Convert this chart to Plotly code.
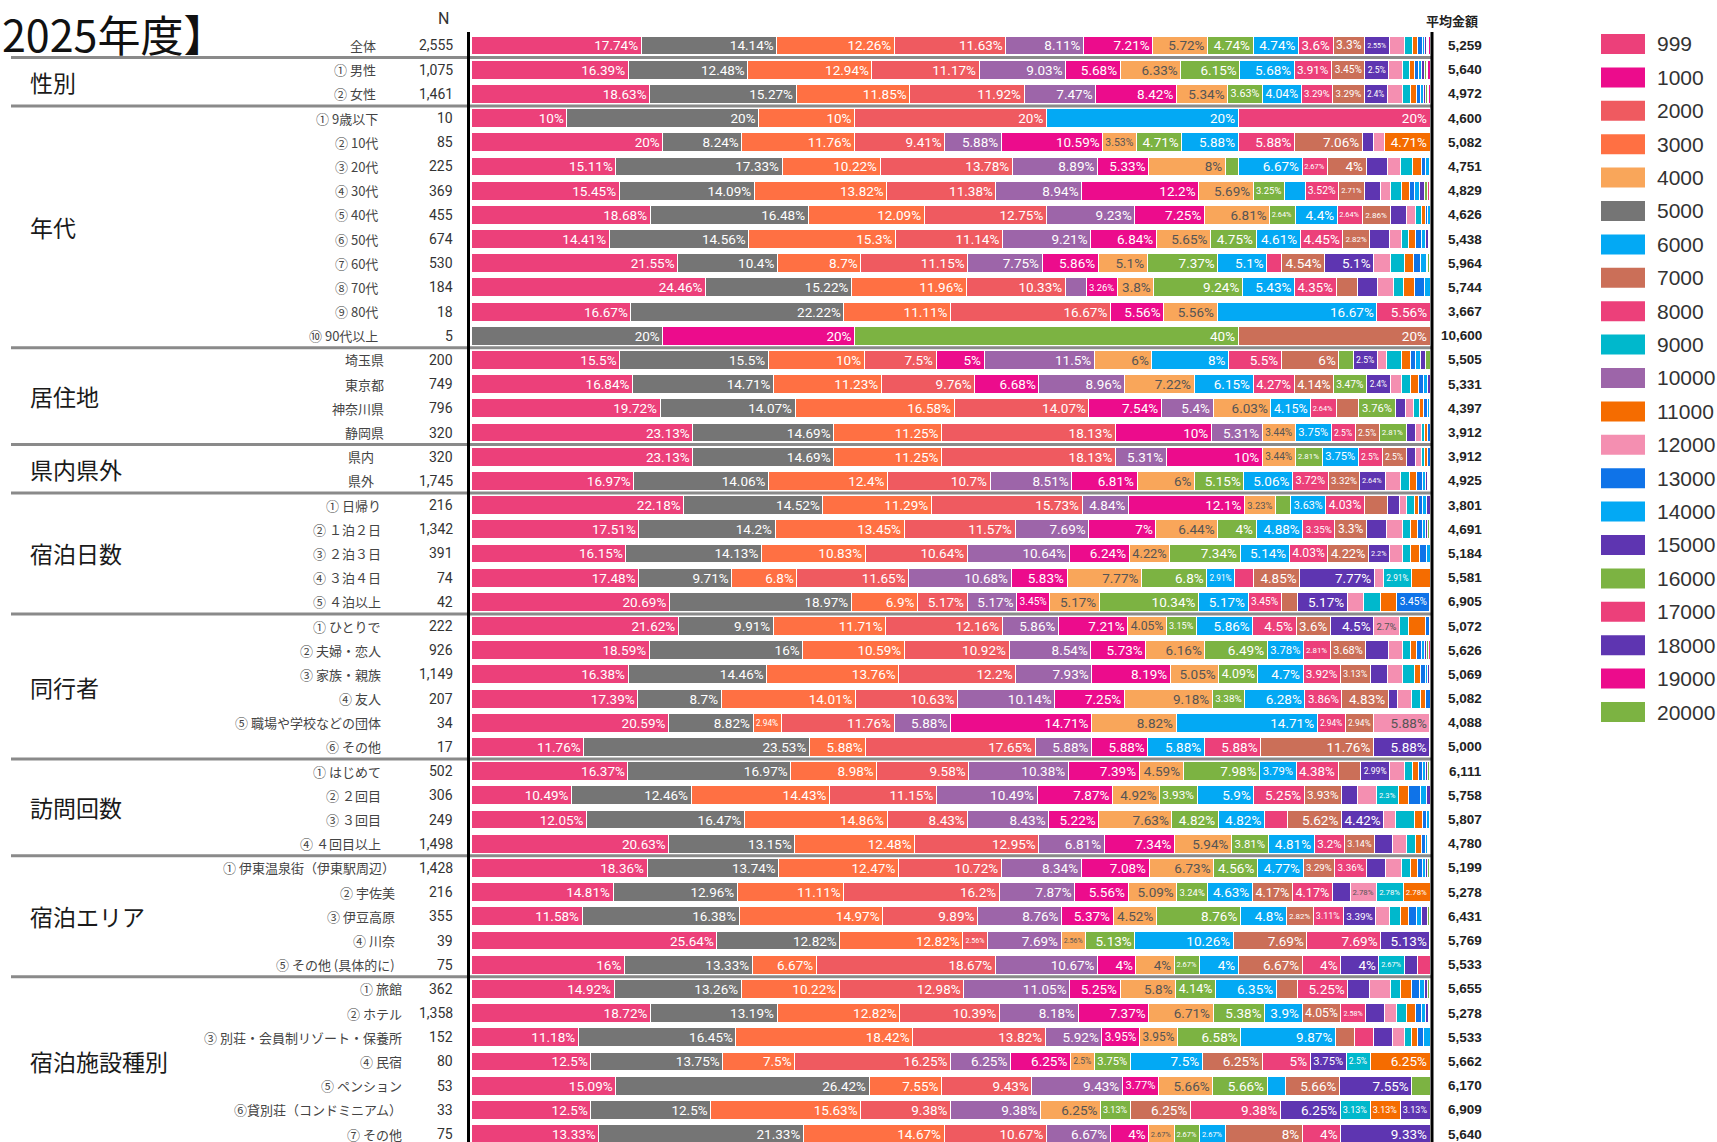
import plotly.graph_objects as go

W, H = 1717, 1142

# ---- amount buckets (legend order) and their colours ----
AMOUNTS = [999, 1000, 2000, 3000, 4000, 5000, 6000, 7000, 8000, 9000, 10000,
           11000, 12000, 13000, 14000, 15000, 16000, 17000, 18000, 19000, 20000]
AMOUNT_COLORS = ["#EC407A", "#EC0C8C", "#EF5A60", "#FF7043", "#F9A65A", "#757575",
                 "#03A9F4", "#CB6F58", "#EC407A", "#00B8CC", "#9D65A9", "#F56C00",
                 "#F48FB1", "#0F73E8", "#03A9F4", "#5E35B1", "#7CB342", "#EC407A",
                 "#5E35B1", "#EC0C8C", "#7CB342"]

# ---- stacking order of the buckets inside each block ----
ORDER_MAIN = [999, 5000, 3000, 2000, 10000, 1000, 4000, 20000, 6000, 8000, 7000,
              15000, 12000, 9000, 11000, 13000, 14000, 18000, 16000, 17000, 19000]
ORDER_RESIDENCE = [999, 5000, 3000, 2000, 1000, 10000, 4000, 6000, 8000, 7000, 20000,
                   15000, 12000, 9000, 11000, 13000, 14000, 18000, 16000, 17000, 19000]
ORDER_STAY = [999, 5000, 3000, 2000, 10000, 1000, 4000, 20000, 6000, 7000, 8000,
              15000, 12000, 9000, 11000, 13000, 14000, 18000, 16000, 17000, 19000]

# ---- 全体 ----
ROWS_ALL = ["全体"]
N_ALL = [2555]
AVG_ALL = [5259]
SHARE_ALL = [
    [17.74, 14.14, 12.26, 11.63, 8.11, 7.21, 5.72, 4.74, 4.74, 3.6, 3.3, 2.55, 1.6, 0.8, 0.6, 0.5, 0.2, 0.15, 0.15, 0.15, 0.11],
]

# ---- 性別 ----
ROWS_SEX = ["① 男性", "② 女性"]
N_SEX = [1075, 1461]
AVG_SEX = [5640, 4972]
SHARE_SEX = [
    [16.39, 12.48, 12.94, 11.17, 9.03, 5.68, 6.33, 6.15, 5.68, 3.91, 3.45, 2.5, 1.4, 0.8, 0.5, 0.4, 0.3, 0.28, 0.2, 0.2, 0.21],
    [18.63, 15.27, 11.85, 11.92, 7.47, 8.42, 5.34, 3.63, 4.04, 3.29, 3.29, 2.4, 1.6, 0.8, 0.6, 0.5, 0.25, 0.2, 0.2, 0.15, 0.15],
]

# ---- 年代 ----
ROWS_AGE = ["① 9歳以下", "② 10代", "③ 20代", "④ 30代", "⑤ 40代", "⑥ 50代",
            "⑦ 60代", "⑧ 70代", "⑨ 80代", "⑩ 90代以上"]
N_AGE = [10, 85, 225, 369, 455, 674, 530, 184, 18, 5]
AVG_AGE = [4600, 5082, 4751, 4829, 4626, 5438, 5964, 5744, 3667, 10600]
SHARE_AGE = [
    [10, 20, 10, 20, 0, 0, 0, 0, 20, 20, 0, 0, 0, 0, 0, 0, 0, 0, 0, 0, 0],
    [20, 8.24, 11.76, 9.41, 5.88, 10.59, 3.53, 4.71, 5.88, 5.88, 7.06, 1.18, 1.18, 0, 4.71, 0, 0, 0, 0, 0, 0],
    [15.11, 17.33, 10.22, 13.78, 8.89, 5.33, 8.0, 1.33, 6.67, 2.67, 4.0, 2.22, 1.33, 1.33, 0.89, 0.44, 0.44, 0, 0, 0, 0],
    [15.45, 14.09, 13.82, 11.38, 8.94, 12.2, 5.69, 3.25, 2.17, 3.52, 2.71, 1.63, 1.08, 1.08, 0.81, 0.54, 0.54, 0.54, 0.27, 0.27, 0],
    [18.68, 16.48, 12.09, 12.75, 9.23, 7.25, 6.81, 2.64, 4.4, 2.64, 2.86, 1.76, 0.88, 0.66, 0.44, 0.22, 0.22, 0, 0, 0, 0],
    [14.41, 14.56, 15.3, 11.14, 9.21, 6.84, 5.65, 4.75, 4.61, 4.45, 2.82, 2.08, 1.19, 0.74, 0.74, 0.59, 0.45, 0.3, 0.15, 0, 0],
    [21.55, 10.4, 8.7, 11.15, 7.75, 5.86, 5.1, 7.37, 5.1, 1.51, 4.54, 5.1, 1.7, 1.51, 0.94, 0.75, 0.57, 0.19, 0.19, 0, 0],
    [24.46, 15.22, 11.96, 10.33, 2.17, 3.26, 3.8, 9.24, 5.43, 4.35, 2.17, 2.17, 1.63, 1.09, 1.09, 1.09, 0.54, 0, 0, 0, 0],
    [16.67, 22.22, 11.11, 16.67, 0, 5.56, 5.56, 0, 16.67, 5.56, 0, 0, 0, 0, 0, 0, 0, 0, 0, 0, 0],
    [0, 20, 0, 0, 0, 20, 0, 40, 0, 0, 20, 0, 0, 0, 0, 0, 0, 0, 0, 0, 0],
]

# ---- 居住地 ----
ROWS_HOME = ["埼玉県", "東京都", "神奈川県", "静岡県"]
N_HOME = [200, 749, 796, 320]
AVG_HOME = [5505, 5331, 4397, 3912]
SHARE_HOME = [
    [15.5, 15.5, 10, 7.5, 5, 11.5, 6, 8, 5.5, 6, 1.5, 2.5, 1, 1.5, 1, 0.5, 0.5, 0.5, 0.5, 0, 0],
    [16.84, 14.71, 11.23, 9.76, 6.68, 8.96, 7.22, 6.15, 4.27, 4.14, 3.47, 2.4, 1.2, 0.93, 0.8, 0.53, 0.4, 0.31, 0, 0, 0],
    [19.72, 14.07, 16.58, 14.07, 7.54, 5.4, 6.03, 4.15, 2.64, 2.39, 3.76, 1.13, 0.75, 0.63, 0.5, 0.38, 0.25, 0, 0, 0, 0],
    [23.13, 14.69, 11.25, 18.13, 10, 5.31, 3.44, 3.75, 2.5, 2.5, 2.81, 0.94, 0.63, 0.31, 0.31, 0.31, 0, 0, 0, 0, 0],
]

# ---- 県内県外 ----
ROWS_PREF = ["県内", "県外"]
N_PREF = [320, 1745]
AVG_PREF = [3912, 4925]
SHARE_PREF = [
    [23.13, 14.69, 11.25, 18.13, 5.31, 10, 3.44, 2.81, 3.75, 2.5, 2.5, 0.94, 0.63, 0.31, 0.31, 0.31, 0, 0, 0, 0, 0],
    [16.97, 14.06, 12.4, 10.7, 8.51, 6.81, 6, 5.15, 5.06, 3.72, 3.32, 2.64, 1.55, 1.0, 0.74, 0.57, 0.34, 0.23, 0.11, 0.06, 0.06],
]

# ---- 宿泊日数 ----
ROWS_NIGHTS = ["① 日帰り", "② １泊２日", "③ ２泊３日", "④ ３泊４日", "⑤ ４泊以上"]
N_NIGHTS = [216, 1342, 391, 74, 42]
AVG_NIGHTS = [3801, 4691, 5184, 5581, 6905]
SHARE_NIGHTS = [
    [22.18, 14.52, 11.29, 15.73, 4.84, 12.1, 3.23, 1.61, 3.63, 4.03, 2.42, 1.21, 0.81, 0.81, 0.4, 0.4, 0.4, 0.4, 0, 0, 0],
    [17.51, 14.2, 13.45, 11.57, 7.69, 7, 6.44, 4, 4.88, 3.35, 3.3, 2.1, 1.6, 0.9, 0.7, 0.5, 0.35, 0.25, 0.11, 0.1, 0],
    [16.15, 14.13, 10.83, 10.64, 10.64, 6.24, 4.22, 7.34, 5.14, 4.03, 4.22, 2.2, 1.4, 0.8, 0.9, 0.8, 0.32, 0, 0, 0, 0],
    [17.48, 9.71, 6.8, 11.65, 10.68, 5.83, 7.77, 6.8, 2.91, 1.94, 4.85, 7.77, 0.97, 2.91, 1.94, 0, 0, 0, 0, 0, 0],
    [20.69, 18.97, 6.9, 5.17, 5.17, 3.45, 5.17, 10.34, 5.17, 3.45, 1.72, 5.17, 1.72, 1.72, 1.72, 3.45, 0, 0, 0, 0, 0],
]

# ---- 同行者 ----
ROWS_PARTY = ["① ひとりで", "② 夫婦・恋人", "③ 家族・親族", "④ 友人",
              "⑤ 職場や学校などの団体", "⑥ その他"]
N_PARTY = [222, 926, 1149, 207, 34, 17]
AVG_PARTY = [5072, 5626, 5069, 5082, 4088, 5000]
SHARE_PARTY = [
    [21.62, 9.91, 11.71, 12.16, 5.86, 7.21, 4.05, 3.15, 5.86, 4.5, 3.6, 4.5, 2.7, 0.9, 1.8, 0.45, 0, 0, 0, 0, 0],
    [18.59, 16, 10.59, 10.92, 8.54, 5.73, 6.16, 6.49, 3.78, 2.81, 3.68, 2.38, 1.51, 0.76, 0.65, 0.54, 0.32, 0.22, 0.22, 0.11, 0],
    [16.38, 14.46, 13.76, 12.2, 7.93, 8.19, 5.05, 4.09, 4.7, 3.92, 3.13, 1.74, 1.57, 1.22, 0.7, 0.44, 0.26, 0.17, 0.09, 0, 0],
    [17.39, 8.7, 14.01, 10.63, 10.14, 7.25, 9.18, 3.38, 6.28, 3.86, 4.83, 0.97, 1.45, 0.97, 0.48, 0.48, 0, 0, 0, 0, 0],
    [20.59, 8.82, 2.94, 11.76, 5.88, 14.71, 8.82, 0, 14.71, 2.94, 2.94, 0, 5.88, 0, 0, 0, 0, 0, 0, 0, 0],
    [11.76, 23.53, 5.88, 17.65, 5.88, 5.88, 0, 0, 5.88, 5.88, 11.76, 5.88, 0, 0, 0, 0, 0, 0, 0, 0, 0],
]

# ---- 訪問回数 ----
ROWS_VISITS = ["① はじめて", "② ２回目", "③ ３回目", "④ ４回目以上"]
N_VISITS = [502, 306, 249, 1498]
AVG_VISITS = [6111, 5758, 5807, 4780]
SHARE_VISITS = [
    [16.37, 16.97, 8.98, 9.58, 10.38, 7.39, 4.59, 7.98, 3.79, 4.38, 2.39, 2.99, 1.59, 0.8, 0.6, 0.4, 0.4, 0.2, 0.2, 0, 0],
    [10.49, 12.46, 14.43, 11.15, 10.49, 7.87, 4.92, 3.93, 5.9, 5.25, 3.93, 1.64, 1.97, 2.3, 0.98, 1.31, 0.66, 0.33, 0, 0, 0],
    [12.05, 16.47, 14.86, 8.43, 8.43, 5.22, 7.63, 4.82, 4.82, 2.41, 5.62, 4.42, 1.2, 2.01, 0.8, 0.4, 0.4, 0, 0, 0, 0],
    [20.63, 13.15, 12.48, 12.95, 6.81, 7.34, 5.94, 3.81, 4.81, 3.2, 3.14, 1.87, 1.47, 0.87, 0.67, 0.4, 0.2, 0.13, 0.07, 0.07, 0],
]

# ---- 宿泊エリア ----
ROWS_AREA = ["① 伊東温泉街（伊東駅周辺）", "② 宇佐美", "③ 伊豆高原", "④ 川奈",
             "⑤ その他 (具体的に)"]
N_AREA = [1428, 216, 355, 39, 75]
AVG_AREA = [5199, 5278, 6431, 5769, 5533]
SHARE_AREA = [
    [18.36, 13.74, 12.47, 10.72, 8.34, 7.08, 6.73, 4.56, 4.77, 3.29, 3.36, 1.96, 1.61, 0.98, 0.77, 0.49, 0.35, 0.21, 0.14, 0.07, 0],
    [14.81, 12.96, 11.11, 16.2, 7.87, 5.56, 5.09, 3.24, 4.63, 4.17, 4.17, 1.85, 2.78, 2.78, 2.78, 0, 0, 0, 0, 0, 0],
    [11.58, 16.38, 14.97, 9.89, 8.76, 5.37, 4.52, 8.76, 4.8, 2.82, 3.11, 3.39, 1.41, 1.13, 0.85, 0.85, 0.56, 0.56, 0.28, 0, 0],
    [25.64, 12.82, 12.82, 2.56, 7.69, 0, 2.56, 5.13, 10.26, 7.69, 7.69, 5.13, 0, 0, 0, 0, 0, 0, 0, 0, 0],
    [16, 13.33, 6.67, 18.67, 10.67, 4, 4, 2.67, 4, 6.67, 4, 4, 0, 2.67, 0, 0, 0, 1.33, 0, 1.33, 0],
]

# ---- 宿泊施設種別 ----
ROWS_LODGING = ["① 旅館", "② ホテル", "③ 別荘・会員制リゾート・保養所", "④ 民宿",
                "⑤ ペンション", "⑥貸別荘（コンドミニアム）", "⑦ その他"]
N_LODGING = [362, 1358, 152, 80, 53, 33, 75]
AVG_LODGING = [5655, 5278, 5533, 5662, 6170, 6909, 5640]
SHARE_LODGING = [
    [14.92, 13.26, 10.22, 12.98, 11.05, 5.25, 5.8, 4.14, 6.35, 2.21, 5.25, 2.21, 2.21, 1.1, 1.1, 0.83, 0.55, 0.28, 0.28, 0, 0],
    [18.72, 13.19, 12.82, 10.39, 8.18, 7.37, 6.71, 5.38, 3.9, 4.05, 2.58, 1.99, 1.25, 1.03, 0.88, 0.66, 0.44, 0.29, 0.15, 0, 0],
    [11.18, 16.45, 18.42, 13.82, 5.92, 3.95, 3.95, 6.58, 9.87, 1.97, 1.97, 1.97, 1.32, 0.66, 0.66, 0.66, 0.66, 0, 0, 0, 0],
    [12.5, 13.75, 7.5, 16.25, 6.25, 6.25, 2.5, 3.75, 7.5, 6.25, 5, 3.75, 0, 2.5, 6.25, 0, 0, 0, 0, 0, 0],
    [15.09, 26.42, 7.55, 9.43, 9.43, 3.77, 5.66, 5.66, 1.89, 5.66, 0, 7.55, 0, 0, 0, 0, 0, 0, 1.89, 0, 0],
    [12.5, 12.5, 15.63, 9.38, 9.38, 0, 6.25, 3.13, 0, 6.25, 9.38, 6.25, 0, 3.13, 3.13, 0, 0, 3.13, 0, 0, 0],
    [13.33, 21.33, 14.67, 10.67, 6.67, 4, 2.67, 2.67, 2.67, 8, 4, 9.33, 0, 0, 0, 0, 0, 0, 0, 0, 0],
]

# block title, rows, N, average, shares, stacking order
GROUPS = [
    ("", ROWS_ALL, N_ALL, AVG_ALL, SHARE_ALL, ORDER_MAIN),
    ("性別", ROWS_SEX, N_SEX, AVG_SEX, SHARE_SEX, ORDER_MAIN),
    ("年代", ROWS_AGE, N_AGE, AVG_AGE, SHARE_AGE, ORDER_MAIN),
    ("居住地", ROWS_HOME, N_HOME, AVG_HOME, SHARE_HOME, ORDER_RESIDENCE),
    ("県内県外", ROWS_PREF, N_PREF, AVG_PREF, SHARE_PREF, ORDER_MAIN),
    ("宿泊日数", ROWS_NIGHTS, N_NIGHTS, AVG_NIGHTS, SHARE_NIGHTS, ORDER_MAIN),
    ("同行者", ROWS_PARTY, N_PARTY, AVG_PARTY, SHARE_PARTY, ORDER_MAIN),
    ("訪問回数", ROWS_VISITS, N_VISITS, AVG_VISITS, SHARE_VISITS, ORDER_MAIN),
    ("宿泊エリア", ROWS_AREA, N_AREA, AVG_AREA, SHARE_AREA, ORDER_STAY),
    ("宿泊施設種別", ROWS_LODGING, N_LODGING, AVG_LODGING, SHARE_LODGING, ORDER_STAY),
]

# right edge (px) of the row captions in each block
CAPTION_EDGE = {"": 378, "性別": 378, "年代": 380, "居住地": 386, "県内県外": 376,
                "宿泊日数": 383, "同行者": 383, "訪問回数": 383, "宿泊エリア": 397,
                "宿泊施設種別": 404}

# ---- geometry ----
BAR_LEFT, BAR_RIGHT = 471, 1430
PLOT_TOP = 33.4
PX_PER_PCT = (BAR_RIGHT - BAR_LEFT) / 100.0
JP = "Noto Sans CJK JP"
NUM = "Roboto"
LABEL_SIZE = 13.5
LABEL_MIN = 7.0

color_of = dict(zip(AMOUNTS, AMOUNT_COLORS))
LIGHT_BUCKETS = {4000, 12000}


def text_width(t, size):
    # rough advance widths of Roboto glyphs, in em
    em = 0.0
    for c in t:
        em += 0.56 if c.isdigit() else (0.26 if c == "." else 0.83)
    return em * size


all_rows = []
for g in GROUPS:
    all_rows.extend(g[1])
row_index = {r: i for i, r in enumerate(all_rows)}

fig = go.Figure()

for name, rows, ns, avgs, shares, order in GROUPS:
    for j, amt in enumerate(order):
        xs, ys, txt, tcol, tsize = [], [], [], [], []
        for r, row in zip(rows, shares):
            v = row[j]
            if v <= 0:
                continue
            xs.append(v)
            ys.append(r)
            room = v * PX_PER_PCT - 5
            t = f"{v:g}%"
            full = text_width(t, LABEL_SIZE)
            size = LABEL_SIZE if full <= room else LABEL_SIZE * room / full
            if size < LABEL_MIN:
                # slivers too thin to carry a readable label
                txt.append("")
                size = LABEL_SIZE
            else:
                txt.append(t)
            tsize.append(size)
            tcol.append("#555555" if amt in LIGHT_BUCKETS else "#ffffff")
        if not xs:
            continue
        fig.add_trace(go.Bar(
            x=xs, y=ys, orientation="h",
            marker=dict(color=color_of[amt], line=dict(color="#ffffff", width=1)),
            text=txt, textposition="inside", insidetextanchor="end",
            constraintext="none", textangle=0,
            insidetextfont=dict(family=NUM, size=tsize, color=tcol),
            hoverinfo="skip", showlegend=False, name=str(amt),
        ))

annotations = []
shapes = []

# title and column headers
annotations.append(dict(text="2025年度】", x=0, y=1, xref="paper", yref="paper",
                        xanchor="left", yanchor="top", showarrow=False,
                        font=dict(family=JP, size=43, color="#111111")))
annotations.append(dict(text="N", x=443 / W, y=1 - 19 / H, xref="paper", yref="paper",
                        xanchor="center", yanchor="middle", showarrow=False,
                        font=dict(family=NUM, size=16, color="#333333")))
annotations.append(dict(text="平均金額", x=1452 / W, y=1 - 20 / H, xref="paper", yref="paper",
                        xanchor="center", yanchor="middle", showarrow=False,
                        font=dict(family=JP, size=13, color="#222222", weight="bold")))

# row captions, N and average per row; block titles and separators
for gi, (name, rows, ns, avgs, shares, order) in enumerate(GROUPS):
    idx = [row_index[r] for r in rows]
    for r, n, a in zip(rows, ns, avgs):
        i = row_index[r]
        annotations.append(dict(text=r, x=CAPTION_EDGE[name] / W, y=i, xref="paper", yref="y",
                                xanchor="right", yanchor="middle", showarrow=False,
                                font=dict(family=JP, size=13, color="#444444")))
        annotations.append(dict(text=f"{n:,}", x=455 / W, y=i, xref="paper", yref="y",
                                xanchor="right", yanchor="middle", showarrow=False,
                                font=dict(family=NUM, size=14, color="#333333")))
        annotations.append(dict(text=f"{a:,}", x=1484 / W, y=i, xref="paper", yref="y",
                                xanchor="right", yanchor="middle", showarrow=False,
                                font=dict(family="Liberation Sans", size=13.5,
                                          color="#222222", weight="bold")))
    if name:
        annotations.append(dict(text=name, x=28 / W, y=sum(idx) / len(idx), xref="paper",
                                yref="y", xanchor="left", yanchor="middle", showarrow=False,
                                font=dict(family=JP, size=23, color="#1a1a1a")))
    if gi < len(GROUPS) - 1:
        yb = idx[-1] + 0.5
        shapes.append(dict(type="line", xref="paper", yref="y", x0=11 / W, x1=1432 / W,
                           y0=yb, y1=yb, line=dict(color="#8a8a8a", width=3), layer="above"))

# axis frame lines on both sides of the bars
for xv in (468.5, 1432):
    shapes.append(dict(type="line", xref="paper", yref="paper", x0=xv / W, x1=xv / W,
                       y0=0, y1=1 - 32 / H, line=dict(color="#000000", width=3),
                       layer="above"))

# legend with wide swatches
for k, (amt, col) in enumerate(zip(AMOUNTS, AMOUNT_COLORS)):
    yc = 44 + k * 33.4
    shapes.append(dict(type="rect", xref="paper", yref="paper",
                       x0=1601 / W, x1=1645 / W, y0=1 - (yc + 10) / H, y1=1 - (yc - 10) / H,
                       fillcolor=col, line=dict(width=0)))
    annotations.append(dict(text=str(amt), x=1655 / W, y=1 - yc / H, xref="paper",
                            yref="paper", xanchor="left", yanchor="middle", showarrow=False,
                            font=dict(family="Liberation Sans", size=21, color="#333333")))

n_rows = len(all_rows)
fig.update_layout(
    width=W, height=H,
    margin=dict(l=0, r=0, t=0, b=0),
    barmode="stack", bargap=0.22,
    plot_bgcolor="#ffffff", paper_bgcolor="#ffffff",
    showlegend=False,
    xaxis=dict(domain=[BAR_LEFT / W, BAR_RIGHT / W], range=[0, 100], visible=False,
               fixedrange=True),
    yaxis=dict(domain=[0, 1 - PLOT_TOP / H], type="category", categoryorder="array",
               categoryarray=all_rows, range=[n_rows - 0.67, -0.5], visible=False,
               fixedrange=True),
    annotations=annotations,
    shapes=shapes,
    font=dict(family=JP),
)

fig.write_html("out.html")
